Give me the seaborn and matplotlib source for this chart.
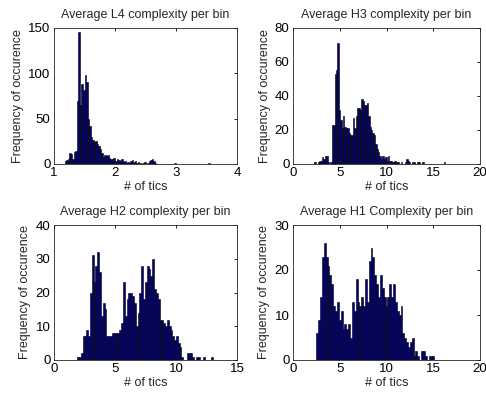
import numpy as np
import pandas as pd
import matplotlib
matplotlib.use("Agg")
import matplotlib.pyplot as plt
import seaborn as sns

# ---------------- data ----------------
titles = ["Average L4 complexity per bin", "Average H3 complexity per bin",
          "Average H2 complexity per bin", "Average H1 Complexity per bin"]
xlabel = "# of tics"
ylabel = "Frequency of occurence"

# L4 : bins of width 0.025 starting at 1.175
l4_start, l4_width = 1.175, 0.025
l4_counts = [3, 4, 5, 12, 11, 6, 13, 14, 70, 146, 65, 88, 82, 98, 90, 50, 42, 30, 26, 24,
             25, 22, 20, 16, 12, 8, 10, 9, 10, 7, 5, 6, 7, 3, 5, 4, 3, 5, 2, 3,
             1, 2, 1, 3, 4, 2, 3, 1, 2, 1, 0, 1, 2, 0, 1, 3, 4, 6, 3, 1,
             0, 0, 0, 0, 0, 0, 0, 0, 0, 0, 0, 0, 1, 0, 0, 0, 0, 0, 0, 0,
             0, 0, 0, 0, 0, 0, 0, 0, 0, 0, 0, 0, 0, 0, 1]

# H3 : bins of width 0.15 starting at 2.2
h3_start, h3_width = 2.2, 0.15
h3_counts = [1, 1, 0, 1, 2, 2, 4, 3, 5, 5, 1, 0, 1, 23, 23, 53, 55, 71, 32, 26,
             21, 28, 22, 21, 21, 18, 17, 17, 27, 21, 28, 33, 33, 32, 38, 37, 35, 35, 36, 28,
             22, 20, 18, 17, 12, 9, 7, 5, 3, 5, 3, 4, 2, 5, 2, 2, 1, 2, 2, 1,
             1, 0, 1, 0, 0, 1, 3, 2, 1, 0, 1, 1, 0, 0, 1, 1, 0, 1, 1, 0,
             0, 0, 0, 0, 0, 0, 0, 0, 0, 0, 0, 0, 0, 1]

# H2 : bins of width 0.15 starting at 1.9
h2_start, h2_width = 1.9, 0.15
h2_counts = [1, 1, 2, 7, 7, 9, 7, 20, 31, 23, 28, 32, 26, 13, 17, 15, 7, 7, 7, 8,
             8, 8, 8, 9, 11, 23, 13, 18, 20, 20, 19, 17, 10, 14, 20, 28, 18, 23, 28, 27,
             25, 30, 21, 20, 18, 12, 12, 11, 10, 12, 10, 9, 7, 6, 7, 5, 4, 1, 0, 0,
             2, 2, 2, 1, 0, 1, 1, 0, 0, 1, 0, 0, 0, 1]

# H1 : bins of width 0.2 starting at 2.5
h1_start, h1_width = 2.5, 0.2
h1_counts = [6, 9, 14, 23, 26, 23, 21, 19, 17, 12, 11, 13, 9, 11, 7, 8, 7, 8, 5, 13,
             11, 18, 13, 12, 14, 12, 18, 13, 22, 25, 23, 19, 17, 14, 19, 16, 14, 12, 14, 17,
             14, 17, 13, 11, 10, 12, 6, 5, 4, 3, 4, 5, 1, 2, 1, 0, 2, 2, 1, 0,
             1, 1, 1]

panels = [
    (l4_start, l4_width, l4_counts, (1, 4), [1, 2, 3, 4], (0, 150), [0, 50, 100, 150]),
    (h3_start, h3_width, h3_counts, (0, 20), [0, 5, 10, 15, 20], (0, 80), [0, 20, 40, 60, 80]),
    (h2_start, h2_width, h2_counts, (0, 15), [0, 5, 10, 15], (0, 40), [0, 10, 20, 30, 40]),
    (h1_start, h1_width, h1_counts, (0, 20), [0, 5, 10, 15, 20], (0, 30), [0, 10, 20, 30]),
]

# ---------------- style ----------------
sns.set_style("white")
plt.rcParams["font.family"] = ["Liberation Sans", "DejaVu Sans"]
plt.rcParams["xtick.direction"] = "in"
plt.rcParams["ytick.direction"] = "in"

fig = plt.figure(figsize=(4.86, 3.96), dpi=100)
W, H = 486.0, 396.0
boxes = [(54, 28, 237, 164), (293, 28, 480, 164), (54, 225, 237, 360), (293, 225, 480, 360)]

for (start, width, counts, xl, xt, yl, yt), box, title in zip(panels, boxes, titles):
    l, t, r, b = box
    ax = fig.add_axes([l / W, 1 - b / H, (r - l) / W, (b - t) / H])
    n = len(counts)
    centers = start + width * (np.arange(n) + 0.5)
    df = pd.DataFrame({"x": centers, "count": np.asarray(counts, dtype=float)})
    sns.histplot(data=df, x="x", weights="count", binwidth=width,
                 binrange=(start, start + n * width), ax=ax,
                 color="#000080", edgecolor="black", linewidth=0.4, alpha=1.0)
    ax.set_xlim(*xl)
    ax.set_ylim(*yl)
    ax.set_xticks(xt)
    ax.set_yticks(yt)
    ax.set_xticklabels([str(v) for v in xt], fontsize=9.5)
    ax.set_yticklabels([str(v) for v in yt], fontsize=9.5)
    ax.tick_params(axis="both", which="both", direction="in", length=2.5, width=0.6,
                   top=True, right=True, pad=2.5, colors="black")
    for s in ax.spines.values():
        s.set_visible(True)
        s.set_color("#222222")
        s.set_linewidth(0.6)
    ax.set_title(title, fontsize=9, pad=7)
    ax.set_xlabel(xlabel, fontsize=9, labelpad=1)
    ax.set_ylabel(ylabel, fontsize=9, labelpad=3)

fig.savefig("out.png", dpi=100)
